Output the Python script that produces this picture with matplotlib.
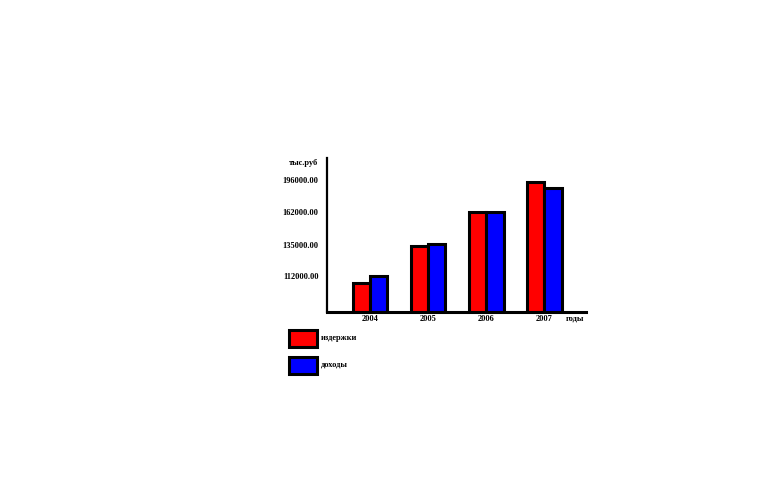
import numpy as np
import matplotlib
matplotlib.use("Agg")
import matplotlib.pyplot as plt
from matplotlib.patches import Rectangle

years = ["2004", "2005", "2006", "2007"]
izderzhki = [90000, 134300, 162000, 194000]   # red
dohody = [112000, 135800, 162000, 187500]     # blue
tick_values = [112000, 135000, 162000, 196000]
tick_labels = ["112000.00", "135000.00", "162000.00", "196000.00"]

# axis in the picture is not linear: piecewise mapping through the tick values
knots_v = [0, 112000, 135000, 162000, 196000, 240000]
knots_p = [0, 36, 67, 100, 132, 173.4]

def fwd(v):
    return np.interp(v, knots_v, knots_p)

def inv(p):
    return np.interp(p, knots_p, knots_v)

plt.rcParams["font.family"] = ["Liberation Serif", "DejaVu Serif"]

fig = plt.figure(figsize=(7.83, 4.99), dpi=100)
ax = fig.add_axes([0.4176, 0.3747, 0.3308, 0.3086])
ax.set_yscale("function", functions=(fwd, inv))

x = np.arange(len(years))
w = 0.30
ax.bar(x - w / 2, izderzhki, w, color="#ff0000", edgecolor="black", linewidth=2.2)
ax.bar(x + w / 2, dohody, w, color="#0000ff", edgecolor="black", linewidth=2.2)

ax.set_xlim(-0.74, 3.72)
ax.set_ylim(0, inv(154))
ax.set_xticks(x)
ax.set_xticklabels(years, fontsize=6, fontweight="bold")
ax.set_yticks(tick_values)
ax.set_yticklabels(tick_labels, fontsize=6, fontweight="bold")
ax.tick_params(length=0)
ax.tick_params(axis="y", pad=6)
ax.tick_params(axis="x", pad=2)
ax.minorticks_off()

for s in ["top", "right"]:
    ax.spines[s].set_visible(False)
ax.spines["left"].set_linewidth(1.6)
ax.spines["bottom"].set_linewidth(2.2)

fig.text(303 / 783, 1 - 163 / 499, "тыс.руб", fontsize=6, fontweight="bold",
         ha="center", va="center")
fig.text(575 / 783, 1 - 319 / 499, "годы", fontsize=6, fontweight="bold",
         ha="center", va="center")

# legend boxes
for y0, col, lab in [(329, "#ff0000", "издержки"), (356, "#0000ff", "доходы")]:
    fig.add_artist(Rectangle((289 / 783, 1 - (y0 + 18) / 499), 28 / 783, 17 / 499,
                             transform=fig.transFigure, facecolor=col,
                             edgecolor="black", linewidth=2.2))
    fig.text(321 / 783, 1 - (y0 + 9) / 499, lab, fontsize=6, fontweight="bold",
             ha="left", va="center")

fig.savefig("out.png", dpi=100)
